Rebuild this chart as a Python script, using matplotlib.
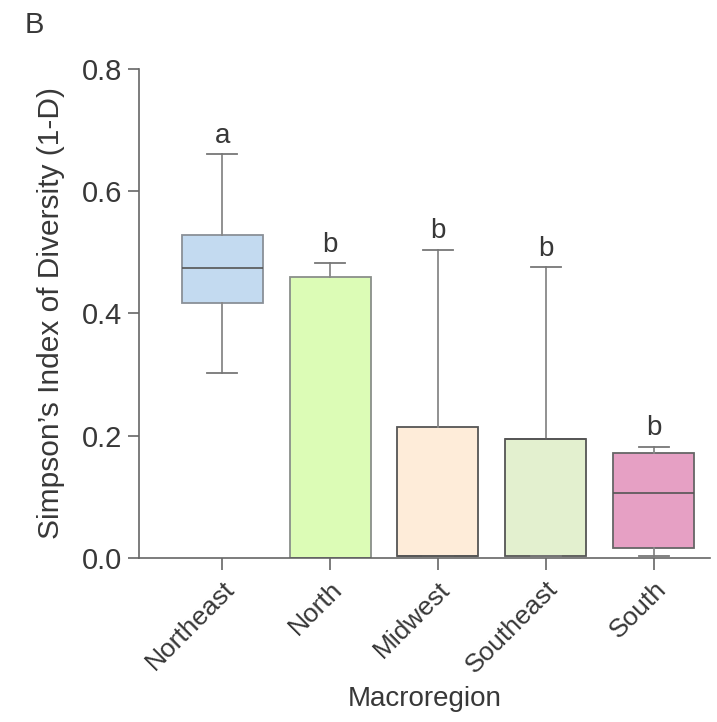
import numpy as np
import matplotlib
matplotlib.use('Agg')
import matplotlib.pyplot as plt

plt.rcParams['font.family'] = ['Liberation Sans', 'DejaVu Sans']

# box statistics (min, q1, median, q3, max)
regions = ['Northeast', 'North', 'Midwest', 'Southeast', 'South']
mins = [0.302, 0.0, 0.003, 0.003, 0.004]
q1s = [0.417, 0.0, 0.003, 0.003, 0.017]
medians = [0.474, 0.0, 0.003, 0.194, 0.106]
q3s = [0.528, 0.459, 0.214, 0.194, 0.172]
maxs = [0.660, 0.482, 0.504, 0.475, 0.182]
letters = ['a', 'b', 'b', 'b', 'b']

fills = ['#c3daf0', '#dcfcb6', '#feecd9', '#e3f0cf', '#e6a0c4']
edges = ['#8a9097', '#8a8f8a', '#555555', '#555555', '#666666']

text_col = '#383838'
axis_col = '#666666'

fig = plt.figure(figsize=(7.17, 7.22), dpi=100)
ax = fig.add_axes([0.194, 0.227, 0.796, 0.678])

stats = []
for i in range(len(regions)):
    stats.append({'whislo': mins[i], 'q1': q1s[i], 'med': medians[i],
                  'q3': q3s[i], 'whishi': maxs[i], 'label': regions[i]})

bp = ax.bxp(stats, positions=np.arange(len(regions)), widths=0.75,
            capwidths=0.28, patch_artist=True, showfliers=False)

for i, box in enumerate(bp['boxes']):
    box.set_facecolor(fills[i])
    box.set_edgecolor(edges[i])
    box.set_linewidth(1.3)
    bp['medians'][i].set_color('#555555')
    bp['medians'][i].set_linewidth(1.2)
    for w in bp['whiskers'][2 * i:2 * i + 2]:
        w.set_color('#888888')
        w.set_linewidth(1.3)
    for c in bp['caps'][2 * i:2 * i + 2]:
        c.set_color('#777777')
        c.set_linewidth(1.3)

for i, lt in enumerate(letters):
    ax.annotate(lt, (i, maxs[i]), xytext=(0, 4), textcoords='offset points',
                ha='center', va='bottom', fontsize=20, color=text_col)

ax.set_xlim(-0.77, 4.52)
ax.set_ylim(0, 0.8)
ax.set_yticks([0.0, 0.2, 0.4, 0.6, 0.8])
ax.set_yticklabels(['0.0', '0.2', '0.4', '0.6', '0.8'])
ax.set_xticks(np.arange(len(regions)))
ax.set_xticklabels(regions, rotation=45, ha='right', rotation_mode='anchor')

for s in ['top', 'right']:
    ax.spines[s].set_visible(False)
for s in ['left', 'bottom']:
    ax.spines[s].set_color(axis_col)
    ax.spines[s].set_linewidth(1.2)

ax.tick_params(axis='y', labelsize=21, colors=axis_col, labelcolor=text_col,
               length=8, width=1.2, pad=4)
ax.tick_params(axis='x', labelsize=19, colors=axis_col, labelcolor=text_col,
               length=8.5, width=1.2, pad=5)

ax.set_ylabel("Simpson\u2019s Index of Diversity (1-D)", fontsize=21.5,
              color=text_col, labelpad=12)
ax.set_xlabel('Macroregion', fontsize=20, color=text_col, labelpad=6)

fig.text(0.035, 0.985, 'B', fontsize=21, color=text_col, ha='left', va='top')

fig.savefig('out.png', dpi=100)
